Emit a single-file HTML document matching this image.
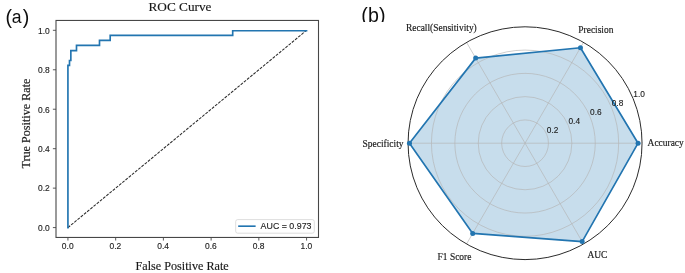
<!DOCTYPE html>
<html><head><meta charset="utf-8">
<style>
html,body{margin:0;padding:0;background:#fff;width:685px;height:273px;overflow:hidden;}
svg{display:block;}
.s{font-family:"Liberation Sans",sans-serif;}
.t{stroke:#1a1a1a;stroke-width:0.12px;}
.r{font-family:"Liberation Serif",serif;stroke:#1a1a1a;stroke-width:0.16px;}
</style></head>
<body>
<svg width="685" height="273" viewBox="0 0 685 273">
<defs><filter id="bl" filterUnits="userSpaceOnUse" x="0" y="0" width="685" height="273"><feGaussianBlur stdDeviation="0.3"/></filter></defs>
<rect width="685" height="273" fill="#fff"/>
<g filter="url(#bl)">
<text class="s" x="5.5" y="24.3" font-size="19.6" fill="#111">(</text>
<text class="s" x="11.7" y="22.7" font-size="17.6" fill="#111">a</text>
<text class="s" x="22.8" y="24.3" font-size="19.6" fill="#111">)</text>
<text class="r" x="148.5" y="11.0" font-size="13.5" textLength="63" lengthAdjust="spacingAndGlyphs" fill="#1a1a1a">ROC Curve</text>
<line x1="67.93" y1="227.59" x2="306.57" y2="30.31" stroke="#2a2a2a" stroke-width="1.05" stroke-dasharray="2.9 1.25"/>
<path d="M67.93,227.59 L67.93,65.30 L69.50,65.30 L69.50,60.50 L70.85,60.50 L70.85,50.60 L76.50,50.60 L76.50,45.30 L99.50,45.30 L99.50,40.30 L110.20,40.30 L110.20,35.30 L232.70,35.30 L232.70,30.70 L306.57,30.70" fill="none" stroke="#2174b0" stroke-width="1.65" stroke-linejoin="miter" stroke-linecap="square"/>
<rect x="56.0" y="20.45" width="262.50" height="217.00" fill="none" stroke="#474747" stroke-width="1.1"/>
<g stroke="#474747" stroke-width="0.9">
<line x1="52.90" y1="227.59" x2="56.00" y2="227.59"/>
<line x1="67.93" y1="237.45" x2="67.93" y2="240.55"/>
<line x1="52.90" y1="188.13" x2="56.00" y2="188.13"/>
<line x1="115.66" y1="237.45" x2="115.66" y2="240.55"/>
<line x1="52.90" y1="148.68" x2="56.00" y2="148.68"/>
<line x1="163.39" y1="237.45" x2="163.39" y2="240.55"/>
<line x1="52.90" y1="109.22" x2="56.00" y2="109.22"/>
<line x1="211.11" y1="237.45" x2="211.11" y2="240.55"/>
<line x1="52.90" y1="69.77" x2="56.00" y2="69.77"/>
<line x1="258.84" y1="237.45" x2="258.84" y2="240.55"/>
<line x1="52.90" y1="30.31" x2="56.00" y2="30.31"/>
<line x1="306.57" y1="237.45" x2="306.57" y2="240.55"/>
</g>
<g class="s t" font-size="8.45" fill="#1a1a1a" text-anchor="end">
<text x="49.80" y="230.89">0.0</text>
<text x="49.80" y="191.43">0.2</text>
<text x="49.80" y="151.98">0.4</text>
<text x="49.80" y="112.52">0.6</text>
<text x="49.80" y="73.07">0.8</text>
<text x="49.80" y="33.61">1.0</text>
</g>
<g class="s t" font-size="8.45" fill="#1a1a1a" text-anchor="middle">
<text x="67.73" y="249.35">0.0</text>
<text x="115.46" y="249.35">0.2</text>
<text x="163.19" y="249.35">0.4</text>
<text x="210.91" y="249.35">0.6</text>
<text x="258.64" y="249.35">0.8</text>
<text x="306.37" y="249.35">1.0</text>
</g>
<text class="r" x="135.6" y="270" font-size="12.15" fill="#1a1a1a">False Positive Rate</text>
<text class="r" transform="translate(29.6,168.5) rotate(-90)" font-size="12.15" fill="#1a1a1a">True Positive Rate</text>
<rect x="235.7" y="219.6" width="78.6" height="13.6" rx="2" ry="2" fill="#fff" fill-opacity="0.8" stroke="#d4d4d4" stroke-width="0.8"/>
<line x1="239.0" y1="226.2" x2="254.8" y2="226.2" stroke="#2174b0" stroke-width="1.65" stroke-linecap="square"/>
<text class="s t" x="260.6" y="229.1" font-size="8.85" fill="#1a1a1a">AUC = 0.973</text>
<svg x="355" y="0" width="40" height="22" overflow="hidden">
<text class="s" x="6.2" y="21.9" font-size="19.6" letter-spacing="0.2" fill="#111">(b)</text>
</svg>
<polygon points="638.07,143.20 580.45,47.74 475.68,58.12 409.45,143.20 472.69,233.42 582.15,241.59" fill="#1f77b4" fill-opacity="0.25"/>
<g fill="none" stroke="#b4b4b4" stroke-width="0.65">
<ellipse cx="525.05" cy="143.2" rx="23.40" ry="23.28"/>
<ellipse cx="525.05" cy="143.2" rx="46.80" ry="46.56"/>
<ellipse cx="525.05" cy="143.2" rx="70.20" ry="69.84"/>
<ellipse cx="525.05" cy="143.2" rx="93.60" ry="93.12"/>
<line x1="525.05" y1="143.2" x2="642.05" y2="143.20"/>
<line x1="525.05" y1="143.2" x2="583.55" y2="42.39"/>
<line x1="525.05" y1="143.2" x2="466.55" y2="42.39"/>
<line x1="525.05" y1="143.2" x2="408.05" y2="143.20"/>
<line x1="525.05" y1="143.2" x2="466.55" y2="244.01"/>
<line x1="525.05" y1="143.2" x2="583.55" y2="244.01"/>
</g>
<ellipse cx="525.05" cy="143.2" rx="117.0" ry="116.4" fill="none" stroke="#2a2a2a" stroke-width="1.0"/>
<polygon points="638.07,143.20 580.45,47.74 475.68,58.12 409.45,143.20 472.69,233.42 582.15,241.59" fill="none" stroke="#2174b0" stroke-width="1.65" stroke-linejoin="round"/>
<g fill="#2174b0">
<circle cx="638.07" cy="143.20" r="2.5"/>
<circle cx="580.45" cy="47.74" r="2.5"/>
<circle cx="475.68" cy="58.12" r="2.5"/>
<circle cx="409.45" cy="143.20" r="2.5"/>
<circle cx="472.69" cy="233.42" r="2.5"/>
<circle cx="582.15" cy="241.59" r="2.5"/>
</g>
<g class="s t" font-size="8.3" fill="#1a1a1a">
<text x="546.87" y="132.89">0.2</text>
<text x="568.49" y="123.98">0.4</text>
<text x="590.11" y="115.07">0.6</text>
<text x="611.73" y="106.16">0.8</text>
<text x="633.34" y="97.26">1.0</text>
</g>
<g class="r" font-size="9.45" fill="#1a1a1a">
<text x="647.6" y="146.4">Accuracy</text>
<text x="578.3" y="32.5">Precision</text>
<text x="406" y="30.9">Recall(Sensitivity)</text>
<text x="362.6" y="147.0">Specificity</text>
<text x="437.6" y="260.2">F1 Score</text>
<text x="587.4" y="258.2">AUC</text>
</g>
</g>
</svg>
</body></html>
